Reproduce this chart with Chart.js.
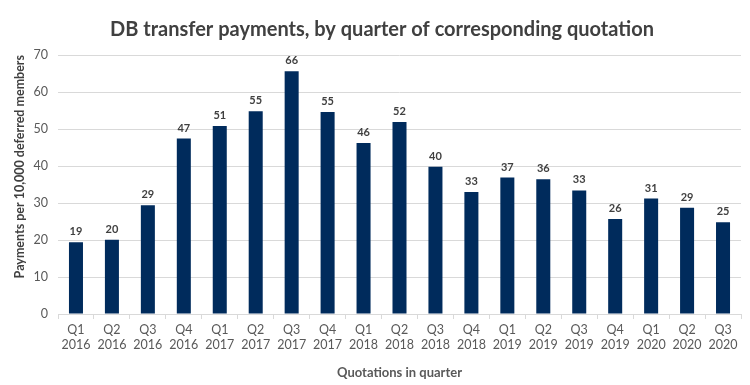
<!DOCTYPE html>
<html>
<head>
<meta charset="utf-8">
<script src="https://cdn.jsdelivr.net/npm/chart.js@4"></script>
<style>
html,body{margin:0;padding:0;background:#fff;}
#wrap{width:750px;height:385px;position:relative;}
</style>
</head>
<body>
<div id="wrap"><canvas id="c" width="750" height="385"></canvas></div>
<script>
const quarters = ["Q1","Q2","Q3","Q4","Q1","Q2","Q3","Q4","Q1","Q2","Q3","Q4","Q1","Q2","Q3","Q4","Q1","Q2","Q3"];
const years = ["2016","2016","2016","2016","2017","2017","2017","2017","2018","2018","2018","2018","2019","2019","2019","2019","2020","2020","2020"];
const payments = [19.4,20.1,29.4,47.4,50.8,54.8,65.6,54.6,46.2,51.9,39.8,33.0,36.9,36.4,33.4,25.7,31.2,28.7,24.8];
const yTicks = [0,10,20,30,40,50,60,70];

const labels = quarters.map((q,i)=>[q, years[i]]);
const FONT = "Lato, 'Open Sans', sans-serif";

const valueLabels = {
  id:'valueLabels',
  afterDatasetsDraw(chart){
    const ctx = chart.ctx;
    const meta = chart.getDatasetMeta(0);
    ctx.save();
    ctx.font = "bold 11px " + FONT;
    ctx.fillStyle = "#404040";
    ctx.textAlign = "center";
    ctx.textBaseline = "bottom";
    meta.data.forEach((bar,i)=>{
      ctx.fillText(Math.round(payments[i]).toString(), bar.x, bar.y - 5);
    });
    ctx.restore();
  }
};

new Chart(document.getElementById('c'), {
  type:'bar',
  data:{
    labels: labels,
    datasets:[{
      data: payments,
      backgroundColor:'#002b5c',
      borderWidth:0,
      barPercentage:0.78,
      categoryPercentage:0.5
    }]
  },
  options:{
    responsive:false,
    animation:false,
    devicePixelRatio:1,
    layout:{padding:{left:23,right:9,top:0,bottom:0}},
    plugins:{
      legend:{display:false},
      tooltip:{enabled:false},
      title:{
        display:true,
        text:'DB transfer payments, by quarter of corresponding quotation',
        color:'#404040',
        font:{family:FONT,size:20,weight:'bold'},
        padding:{top:18,bottom:13}
      }
    },
    scales:{
      x:{
        afterFit(s){ s.height = 71; },
        grid:{display:true,drawOnChartArea:false,drawTicks:true,tickLength:5,color:'#d9d9d9',offset:true},
        border:{display:true,color:'#d9d9d9',width:1},
        ticks:{color:'#595959',font:{family:FONT,size:12.5},padding:3,maxRotation:0,autoSkip:false},
        title:{display:true,text:'Quotations in quarter',color:'#595959',font:{family:FONT,size:13,weight:'bold'},padding:{top:4,bottom:4}}
      },
      y:{
        min:0,max:70,
        afterFit(s){ s.width = 35; },
        afterBuildTicks(s){ s.ticks = yTicks.map(v=>({value:v})); },
        grid:{color:'#d9d9d9',lineWidth:1,drawTicks:false},
        border:{display:false},
        ticks:{color:'#595959',font:{family:FONT,size:12.5},padding:10},
        title:{display:true,align:'end',text:'Payments per 10,000 deferred members',color:'#404040',font:{family:FONT,size:12.5,weight:'bold'},padding:{top:-11,bottom:0}}
      }
    }
  },
  plugins:[valueLabels]
});
</script>
</body>
</html>
